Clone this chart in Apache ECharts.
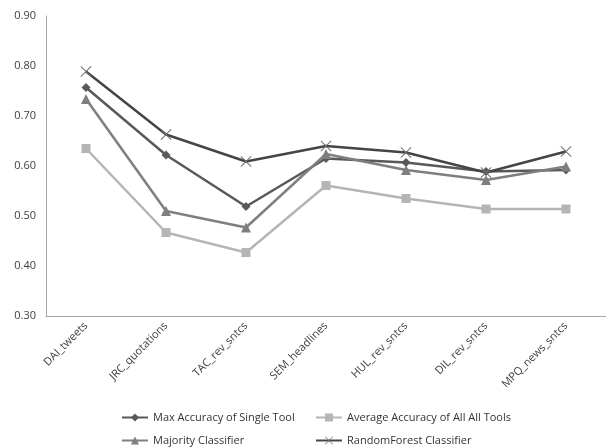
<!DOCTYPE html>
<html>
<head>
<meta charset="utf-8">
<script src="https://cdn.jsdelivr.net/npm/echarts@6/dist/echarts.min.js"></script>
<style>
html,body{margin:0;padding:0;background:#fff;}
#chart{width:606px;height:448px;}
</style>
</head>
<body>
<div id="chart"></div>
<script>
const categories = ['DAI_tweets','JRC_quotations','TAC_rev_sntcs','SEM_headlines','HUL_rev_sntcs','DIL_rev_sntcs','MPQ_news_sntcs'];
const maxSingleTool = [0.757, 0.622, 0.519, 0.615, 0.607, 0.589, 0.592];
const averageAllTools = [0.635, 0.467, 0.427, 0.561, 0.535, 0.514, 0.514];
const majorityClassifier = [0.734, 0.510, 0.477, 0.624, 0.592, 0.572, 0.599];
const randomForest = [0.789, 0.663, 0.609, 0.640, 0.627, 0.587, 0.629];
const yTicks = [0.3, 0.4, 0.5, 0.6, 0.7, 0.8, 0.9];

const font = 'Open Sans';
// thin diagonal cross marker
const crossPath = 'path://M0,0.6 L0.6,0 L5,4.4 L9.4,0 L10,0.6 L5.6,5 L10,9.4 L9.4,10 L5,5.6 L0.6,10 L0,9.4 L4.4,5 Z';

function lineSeries(name, data, color, symbol, size, markerColor) {
  return {
    name, type: 'line', data,
    symbol, symbolSize: size,
    lineStyle: { color, width: 2.5 },
    itemStyle: { color: markerColor || color },
    emphasis: { disabled: true },
    animation: false
  };
}

function legendAt(name, left, top) {
  return {
    data: [name], left, top, itemWidth: 26, itemHeight: 10, itemGap: 0,
    textStyle: { fontFamily: font, fontSize: 11, color: '#333' },
    selectedMode: false, padding: 0
  };
}

const chart = echarts.init(document.getElementById('chart'));
chart.setOption({
  backgroundColor: '#fff',
  grid: { left: 46, top: 16, width: 563, height: 300, containLabel: false },
  xAxis: {
    type: 'category', data: categories, boundaryGap: true,
    axisLine: { lineStyle: { color: '#a6a6a6', width: 1 } },
    axisTick: { show: false },
    axisLabel: { rotate: 45, fontFamily: font, fontSize: 11, color: '#404040', margin: 8, interval: 0 }
  },
  yAxis: {
    type: 'value', min: 0.3, max: 0.9, interval: 0.1,
    axisLine: { show: true, lineStyle: { color: '#a6a6a6', width: 1 } },
    axisTick: { show: false },
    splitLine: { show: false },
    axisLabel: {
      fontFamily: font, fontSize: 11, color: '#404040', margin: 10,
      formatter: v => {
        const t = yTicks.find(x => Math.abs(x - v) < 1e-6);
        return (t !== undefined ? t : v).toFixed(2);
      }
    }
  },
  legend: [
    legendAt('Max Accuracy of Single Tool', 121, 412),
    legendAt('Average Accuracy of All All Tools', 315, 412),
    legendAt('Majority Classifier', 121, 435),
    legendAt('RandomForest Classifier', 315, 435)
  ],
  series: [
    lineSeries('Max Accuracy of Single Tool', maxSingleTool, '#595959', 'diamond', 9),
    lineSeries('Average Accuracy of All All Tools', averageAllTools, '#b5b5b5', 'rect', 9),
    lineSeries('Majority Classifier', majorityClassifier, '#7f7f7f', 'triangle', 10),
    lineSeries('RandomForest Classifier', randomForest, '#454545', crossPath, 11, '#6e6e6e')
  ]
});
</script>
</body>
</html>
